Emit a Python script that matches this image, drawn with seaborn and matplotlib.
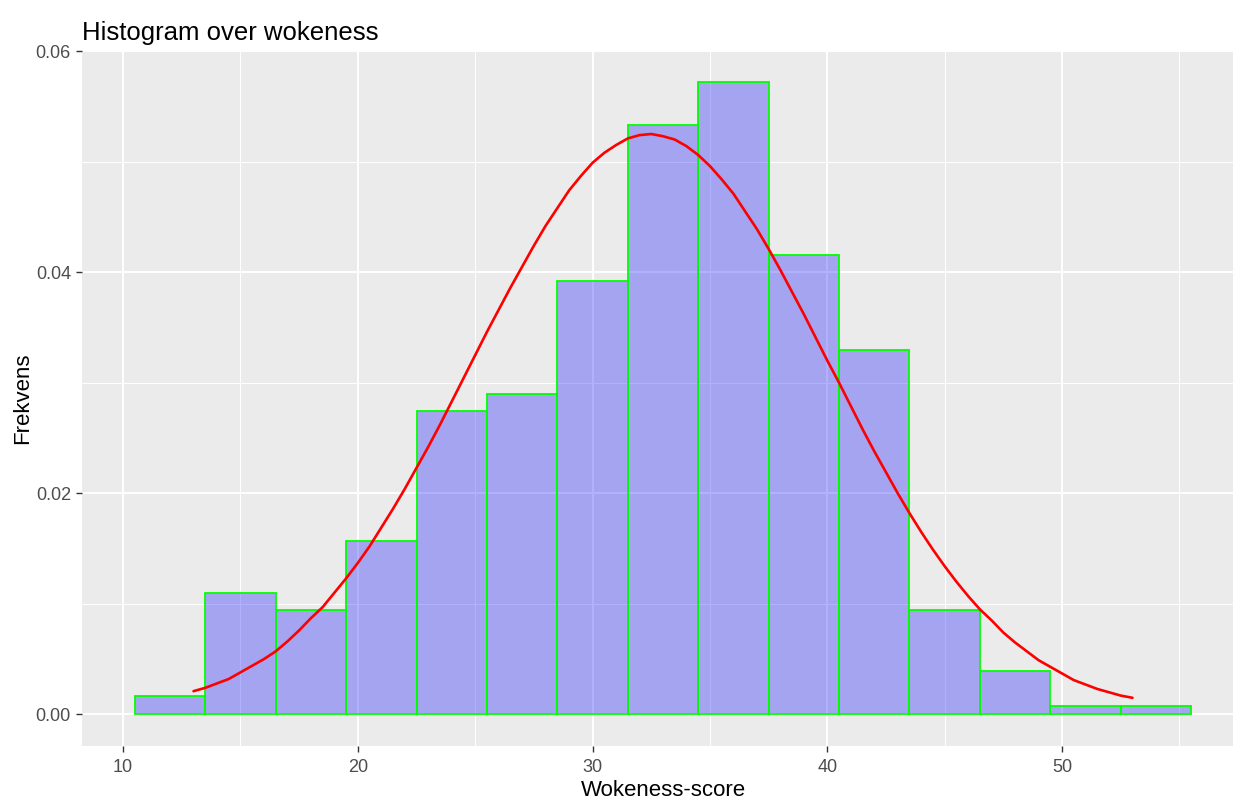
import matplotlib
matplotlib.use("Agg")
import matplotlib.pyplot as plt
from matplotlib.ticker import FixedLocator
import numpy as np
import pandas as pd
import seaborn as sns

# ---- data ----
bin_edges = [10.5, 13.5, 16.5, 19.5, 22.5, 25.5, 28.5, 31.5, 34.5,
             37.5, 40.5, 43.5, 46.5, 49.5, 52.5, 55.5]
bin_density = [0.0017, 0.0110, 0.0094, 0.0157, 0.0274, 0.0290, 0.0392,
               0.0533, 0.0572, 0.0416, 0.0330, 0.0094, 0.0039, 0.0008, 0.0008]

curve_x = [13, 13.5, 14, 14.5, 15, 15.5, 16, 16.5, 17, 17.5, 18, 18.5,
           19, 19.5, 20, 20.5, 21, 21.5, 22, 22.5, 23, 23.5, 24, 24.5,
           25, 25.5, 26, 26.5, 27, 27.5, 28, 28.5, 29, 29.5, 30, 30.5,
           31, 31.5, 32, 32.5, 33, 33.5, 34, 34.5, 35, 35.5, 36, 36.5,
           37, 37.5, 38, 38.5, 39, 39.5, 40, 40.5, 41, 41.5, 42, 42.5,
           43, 43.5, 44, 44.5, 45, 45.5, 46, 46.5, 47, 47.5, 48, 48.5,
           49, 49.5, 50, 50.5, 51, 51.5, 52, 52.5, 53]
curve_y = [0.0021, 0.0024, 0.0028, 0.0032, 0.0038, 0.0044, 0.0050, 0.0057,
           0.0066, 0.0076, 0.0087, 0.0097, 0.0110, 0.0123, 0.0137, 0.0152,
           0.0169, 0.0186, 0.0204, 0.0223, 0.0242, 0.0262, 0.0283, 0.0304,
           0.0325, 0.0346, 0.0366, 0.0386, 0.0405, 0.0424, 0.0442, 0.0458,
           0.0474, 0.0487, 0.0499, 0.0508, 0.0515, 0.0521, 0.0524, 0.0525,
           0.0523, 0.0520, 0.0514, 0.0506, 0.0496, 0.0484, 0.0471, 0.0455,
           0.0439, 0.0421, 0.0402, 0.0382, 0.0362, 0.0341, 0.0320, 0.0300,
           0.0279, 0.0258, 0.0238, 0.0219, 0.0200, 0.0182, 0.0165, 0.0149,
           0.0134, 0.0120, 0.0107, 0.0095, 0.0085, 0.0074, 0.0065, 0.0057,
           0.0049, 0.0043, 0.0037, 0.0031, 0.0027, 0.0023, 0.0020, 0.0017,
           0.0015]

x_major = [10, 20, 30, 40, 50]
x_minor = [15, 25, 35, 45, 55]
y_major = [0.00, 0.02, 0.04, 0.06]
y_minor = [0.01, 0.03, 0.05]
y_labels = ["0.00", "0.02", "0.04", "0.06"]

title = "Histogram over wokeness"
xlabel = "Wokeness-score"
ylabel = "Frekvens"

# ---- styling ----
sns.set_theme(style="darkgrid")
plt.rcParams["font.family"] = ["Liberation Sans", "DejaVu Sans"]

W, H = 1233, 802
fig = plt.figure(figsize=(W / 100, H / 100), dpi=100)
fig.patch.set_facecolor("white")
left, right, top, bottom = 82, 1244, 50, 746
ax = fig.add_axes([left / W, (H - bottom) / H, (right - left) / W, (bottom - top) / H])
ax.set_facecolor("#EBEBEB")

centers = [(a + b) / 2 for a, b in zip(bin_edges[:-1], bin_edges[1:])]
df = pd.DataFrame({"score": centers, "density": bin_density})
sns.histplot(data=df, x="score", weights="density", bins=bin_edges,
             stat="count", ax=ax)
for p in ax.patches:
    p.set_alpha(None)
    p.set_facecolor((0.0, 0.0, 1.0, 0.3))
    p.set_edgecolor("#00FF00")
    p.set_linewidth(1.3)
    p.set_zorder(2)

sns.lineplot(x=curve_x, y=curve_y, color="red", linewidth=1.9, ax=ax, zorder=3)

ax.set_xlim(8.25, 57.75)
ax.set_ylim(-0.00286, 0.0601)

ax.xaxis.set_major_locator(FixedLocator(x_major))
ax.xaxis.set_minor_locator(FixedLocator(x_minor))
ax.yaxis.set_major_locator(FixedLocator(y_major))
ax.yaxis.set_minor_locator(FixedLocator(y_minor))
ax.set_yticklabels(y_labels)

ax.set_axisbelow(True)
ax.grid(which="major", color="white", linewidth=1.4)
ax.grid(which="minor", color="white", linewidth=0.7)
for s in ax.spines.values():
    s.set_visible(False)

ax.tick_params(which="major", length=4, width=1.0, color="#333333",
               labelcolor="#4D4D4D", labelsize=13, bottom=True, left=True)
ax.tick_params(axis="x", which="major", pad=5)
ax.tick_params(axis="y", which="major", pad=4)
ax.tick_params(which="minor", length=0)

ax.set_title(title, loc="left", fontsize=18.5, color="black", pad=7.5)
ax.set_xlabel(xlabel, fontsize=16, color="black", labelpad=3)
ax.set_ylabel(ylabel, fontsize=16, color="black", labelpad=2)

fig.savefig("out.png", dpi=100, facecolor="white")
